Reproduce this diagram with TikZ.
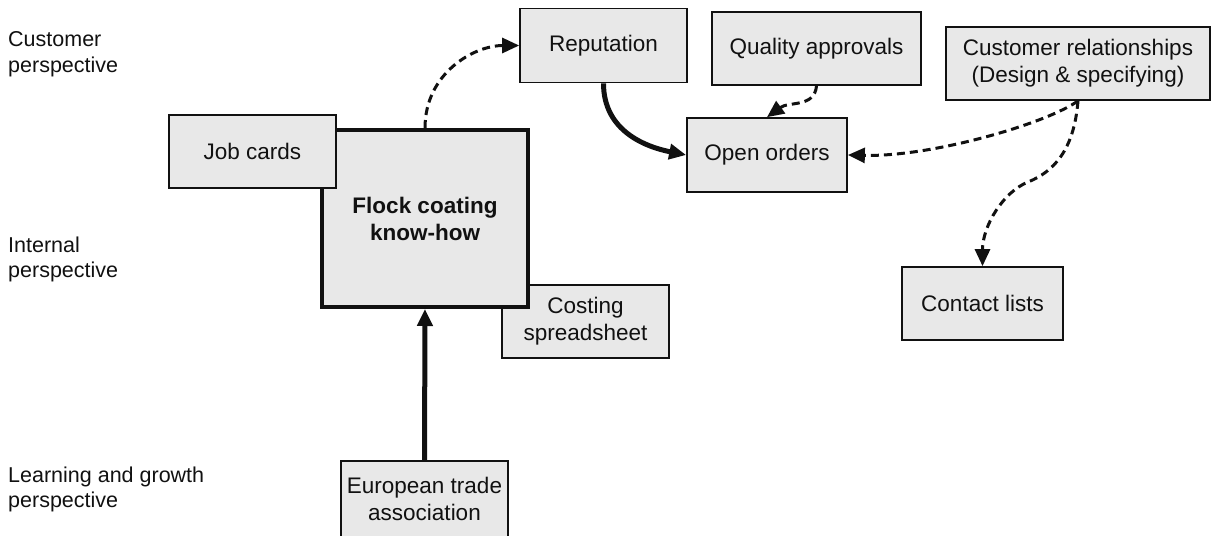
\documentclass[tikz,border=0pt]{standalone}
\usepackage{fontspec}
\setmainfont{Liberation Sans}
\usetikzlibrary{arrows.meta}
\definecolor{boxfill}{HTML}{E8E8E8}
\definecolor{ink}{HTML}{111111}
\begin{document}
\begin{tikzpicture}[x=1pt,y=-1pt,
  box/.style={draw=ink, fill=boxfill, line width=1.7pt, inner sep=0pt, align=center,
    font=\fontsize{22.5}{27}\selectfont, text=ink},
  lbl/.style={anchor=base west, inner sep=0pt, align=left,
    font=\fontsize{21.5}{25}\selectfont, text=ink},
  dasharrow/.style={draw=ink, line width=3pt, dash pattern=on 8pt off 5pt,
    -{Triangle[length=17pt,width=15pt]}},
  thickarrow/.style={draw=ink, line width=5pt, -{Triangle[length=17pt,width=15pt]}}]
\useasboundingbox (0,0) rectangle (1222,535);
\clip (0,0) rectangle (1222,535);

% perspective labels (base anchor = last line)
\node[lbl] (lcust) at (8,72) {Customer\\perspective};
\node[lbl] (lint) at (8,277) {Internal\\perspective};
\node[lbl] (llearn) at (8,507) {Learning and growth\\perspective};

% boxes
\node[box, minimum width=167pt, minimum height=74pt] (rep) at (603.5,45.5) {Reputation};
\node[box, minimum width=209pt, minimum height=73pt] (qa) at (816.5,48.5) {Quality approvals};
\node[box, minimum width=264pt, minimum height=73pt] (cr) at (1078,63.5) {Customer relationships\\(Design \& specifying)};
\node[box, minimum width=160pt, minimum height=74pt] (oo) at (767,155) {Open orders};
\node[box, minimum width=161pt, minimum height=73pt] (cl) at (982.5,303.5) {Contact lists};
\node[box, minimum width=167pt, minimum height=73pt] (cs) at (585.5,321.5) {Costing\\spreadsheet};
\node[box, line width=4pt, minimum width=206pt, minimum height=177pt, font=\fontsize{22.5}{27}\selectfont\bfseries] (fk) at (425,218.5) {Flock coating\\know-how};
\node[box, minimum width=167pt, minimum height=73pt] (jc) at (252.5,151.5) {Job cards};
\node[box, minimum width=167pt, minimum height=76pt] (eu) at (424.5,499) {European trade\\association};

% connectors
\draw[dasharrow] (fk.north) .. controls +(0,-55) and +(-45,0) .. (rep.west);
\draw[thickarrow] (rep.south) .. controls +(0,48) and +(-40,-8) .. (oo.west);
\draw[dasharrow] (qa.south) .. controls +(-2,22) and +(22,-16) .. (oo.north);
\draw[dasharrow] (cr.south) .. controls +(-30,22) and +(85,2) .. (oo.east);
\draw[dasharrow] (cr.south) .. controls +(-4,50) and +(25,-10) .. (1028,182)
                 .. controls +(-25,10) and +(0,-40) .. (cl.north);
\draw[thickarrow] (eu.north) -- (fk.south);
\end{tikzpicture}
\end{document}
